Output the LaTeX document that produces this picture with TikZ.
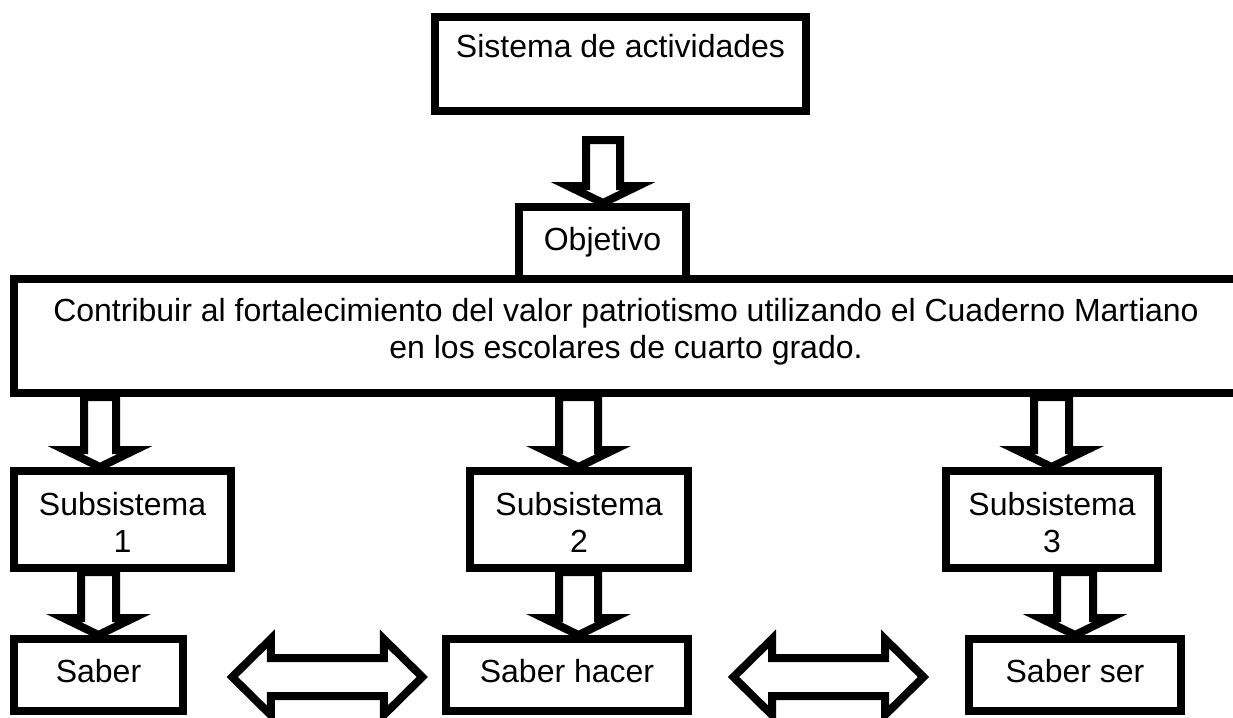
\documentclass[tikz,border=0pt]{standalone}
\usepackage{fontspec}
\setmainfont{Liberation Sans}
\usetikzlibrary{calc}
\pgfdeclarelayer{bg}
\pgfsetlayers{bg,main}
\tikzset{
  box/.style={draw=black, line width=8pt, fill=white, inner sep=0pt,
    font=\fontsize{32}{37}\selectfont, align=center},
  oneline/.style={text height=23pt, text depth=#1},
  barrow/.style={draw=black, line width=8pt, fill=white, line join=miter},
}
% block arrow pointing down: #1 x, #2 shaft half width, #3 start, #4 tip
\newcommand{\bdown}[4]{%
  \draw[barrow] let \p1=(#3), \p2=(#4) in
    ({(#1-#2)*1pt},\y1) -- ({(#1-#2)*1pt},{\y2+17pt}) -- ({(#1-35)*1pt},{\y2+17pt})
    -- ({#1*1pt},\y2) -- ({(#1+35)*1pt},{\y2+17pt}) -- ({(#1+#2)*1pt},{\y2+17pt})
    -- ({(#1+#2)*1pt},\y1) -- cycle;}
% horizontal double block arrow around a centre
\newcommand{\bboth}[1]{%
  \draw[barrow] let \p0=(#1) in
    ({\x0-95pt},\y0) -- ({\x0-56.5pt},{\y0+38pt}) -- ({\x0-56.5pt},{\y0+19pt})
    -- ({\x0+56.5pt},{\y0+19pt}) -- ({\x0+56.5pt},{\y0+38pt}) -- ({\x0+95pt},\y0)
    -- ({\x0+56.5pt},{\y0-38pt}) -- ({\x0+56.5pt},{\y0-19pt})
    -- ({\x0-56.5pt},{\y0-19pt}) -- ({\x0-56.5pt},{\y0-38pt}) -- cycle;}
\begin{document}
\begin{tikzpicture}[x=1pt,y=-1pt]
\useasboundingbox (0,0) rectangle (1233,717);
\node[box, minimum width=371pt, minimum height=94pt, oneline=35pt] (top) at (620.5,64) {Sistema de actividades};
\node[box, minimum width=167pt, minimum height=72pt, oneline=9pt] (obj) at (602.5,243) {Objetivo};
\node[box, minimum width=1224pt, minimum height=114pt] (goal) at (626,336)
  {Contribuir al fortalecimiento del valor patriotismo utilizando el Cuaderno Martiano\\en los escolares de cuarto grado.\rule[-14.5pt]{0pt}{0pt}};
\node[box, minimum width=217pt, minimum height=97pt] (s1) at (122.5,519.5) {\rule{0pt}{29.5pt}Subsistema\\1};
\node[box, minimum width=218pt, minimum height=97pt] (s2) at (579,519.5) {\rule{0pt}{29.5pt}Subsistema\\2};
\node[box, minimum width=212pt, minimum height=97pt] (s3) at (1052,519.5) {\rule{0pt}{29.5pt}Subsistema\\3};
\node[box, minimum width=169pt, minimum height=72pt, oneline=9pt] (k1) at (98.5,675) {Saber};
\node[box, minimum width=242pt, minimum height=72pt, oneline=9pt] (k2) at (567,675) {Saber hacer};
\node[box, minimum width=212pt, minimum height=72pt, oneline=9pt] (k3) at (1075,675) {Saber ser};
\begin{pgfonlayer}{bg}
\bdown{603}{17}{$(top.south)+(0,25)$}{obj.north}
\bdown{100}{16}{goal.south}{s1.north}
\bdown{578.5}{19.5}{goal.south}{s2.north}
\bdown{1051.5}{17.5}{goal.south}{s3.north}
\bdown{98.5}{17.5}{s1.south}{k1.north}
\bdown{578.5}{19.5}{s2.south}{k2.north}
\bdown{1075}{18}{s3.south}{k3.north}
\bboth{$($(k1.east)!0.55!(k2.west)$)+(0,2)$}
\bboth{$($(k2.east)!0.5!(k3.west)$)+(0,2)$}
\end{pgfonlayer}
\end{tikzpicture}
\end{document}
